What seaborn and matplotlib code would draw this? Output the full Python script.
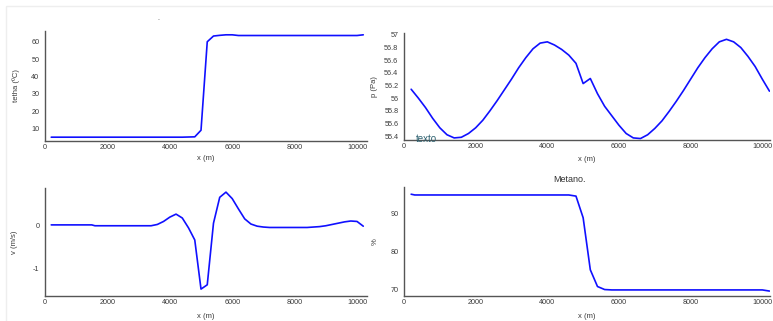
import numpy as np
import pandas as pd
import matplotlib
matplotlib.use("Agg")
import matplotlib.pyplot as plt
import seaborn as sns
from matplotlib.ticker import MultipleLocator
from matplotlib.patches import Rectangle

# ---- data ----
x_tetha = [200, 400, 800, 1200, 1600, 2000, 2400, 2800, 3200, 3600, 4000, 4400, 4800,
           5000, 5200, 5400, 5600, 5800, 6000, 6200, 7000, 8000, 9000, 10000, 10200]
tetha = [5.0, 5.0, 5.0, 5.0, 5.0, 5.0, 5.0, 5.0, 5.0, 5.0, 5.0, 5.0, 5.2,
         9.0, 60.0, 63.3, 63.7, 64.0, 64.0, 63.6, 63.6, 63.6, 63.6, 63.6, 64.0]

x_p = [200, 400, 600, 800, 1000, 1200, 1400, 1600, 1800, 2000, 2200, 2400, 2600, 2800,
       3000, 3200, 3400, 3600, 3800, 4000, 4200, 4400, 4600, 4800, 5000, 5200, 5400,
       5600, 5800, 6000, 6200, 6400, 6600, 6800, 7000, 7200, 7400, 7600, 7800, 8000,
       8200, 8400, 8600, 8800, 9000, 9200, 9400, 9600, 9800, 10000, 10200]
p = [56.14, 56.00, 55.85, 55.68, 55.53, 55.42, 55.37, 55.38, 55.44, 55.53, 55.65, 55.80,
     55.96, 56.13, 56.30, 56.48, 56.64, 56.78, 56.87, 56.89, 56.84, 56.77, 56.68, 56.55,
     56.23, 56.31, 56.07, 55.87, 55.72, 55.57, 55.44, 55.37, 55.36, 55.42, 55.52, 55.64,
     55.79, 55.95, 56.12, 56.30, 56.48, 56.64, 56.78, 56.89, 56.93, 56.89, 56.80, 56.66,
     56.50, 56.30, 56.11]
p_ticks = [55.4, 55.6, 55.8, 56.0, 56.2, 56.4, 56.6, 56.8, 57.0]
p_ticklabels = ["55.4", "55.6", "55.8", "56", "56.2", "56.4", "56.6", "56.8", "57"]

x_v = [200, 600, 1000, 1500, 1600, 2000, 2600, 3200, 3400, 3600, 3800, 4000, 4200, 4400,
       4600, 4800, 5000, 5200, 5400, 5600, 5800, 6000, 6200, 6400, 6600, 6800, 7000,
       7200, 7600, 8000, 8400, 8600, 8800, 9000, 9200, 9400, 9600, 9800, 10000, 10200]
v = [0.02, 0.02, 0.02, 0.02, 0.0, 0.0, 0.0, 0.0, 0.0, 0.03, 0.10, 0.20, 0.27, 0.18,
     -0.05, -0.33, -1.47, -1.37, 0.06, 0.66, 0.78, 0.63, 0.39, 0.16, 0.04, -0.01, -0.03,
     -0.04, -0.04, -0.04, -0.04, -0.03, -0.02, 0.0, 0.03, 0.06, 0.09, 0.11, 0.10, -0.01]

x_met = [200, 300, 1000, 2000, 3000, 4000, 4600, 4800, 5000, 5200, 5400, 5600, 5800,
         7000, 8000, 9000, 10000, 10200]
metano = [95.2, 95.0, 95.0, 95.0, 95.0, 95.0, 95.0, 94.7, 89.0, 75.3, 70.9, 70.1, 70.0,
          70.0, 70.0, 70.0, 70.0, 69.7]

df_t = pd.DataFrame({"x": x_tetha, "y": tetha})
df_p = pd.DataFrame({"x": x_p, "y": p})
df_v = pd.DataFrame({"x": x_v, "y": v})
df_m = pd.DataFrame({"x": x_met, "y": metano})

sns.set_style("white")
plt.rcParams['font.family'] = ['Liberation Sans', 'DejaVu Sans']
plt.rcParams['axes.unicode_minus'] = False

W, H = 773, 321
fig = plt.figure(figsize=(W / 100, H / 100), dpi=100)
fig.patch.set_facecolor("white")

def px_axes(l, t, r, b):
    return fig.add_axes([l / W, 1 - b / H, (r - l) / W, (b - t) / H])

LINE = "#1010ff"
TXT = "#3a3a3a"

def style(ax, box, xlim, ylim, ymajor, yminor=None, ylabel="", xlabel="x (m)",
          xl_y=0.0, yl_x=0.0):
    l, t, r, b = box
    ax.set_xlim(*xlim)
    ax.set_ylim(*ylim)
    ax.xaxis.set_major_locator(MultipleLocator(2000))
    ax.xaxis.set_minor_locator(MultipleLocator(1000))
    ax.yaxis.set_major_locator(MultipleLocator(ymajor))
    if yminor:
        ax.yaxis.set_minor_locator(MultipleLocator(yminor))
    for s in ["top", "right"]:
        ax.spines[s].set_visible(False)
    for s in ["left", "bottom"]:
        ax.spines[s].set_color("#555555")
        ax.spines[s].set_linewidth(1.0)
    ax.tick_params(which="both", direction="in", colors="#b0b0b0", labelcolor=TXT,
                   labelsize=5.2, length=2.5, width=0.8)
    ax.tick_params(axis="y", pad=4)
    ax.tick_params(axis="x", pad=2.5)
    ax.tick_params(which="minor", length=1.8)
    ax.set_xlabel(xlabel, fontsize=5.5, color=TXT)
    ax.set_ylabel(ylabel, fontsize=5.5, color=TXT)
    # label positions (pixels -> axes fraction)
    ax.xaxis.set_label_coords(0.5, -(xl_y - b) / (b - t))
    ax.yaxis.set_label_coords((yl_x - l) / (r - l), 0.5)
    ax.set_facecolor("white")

box1 = (45, 31, 367, 141)
ax1 = px_axes(*box1)
sns.lineplot(data=df_t, x="x", y="y", ax=ax1, color=LINE, linewidth=1.2)
style(ax1, box1, (0, 10320), (2.8, 66.2), 10, ylabel="tetha (ºC)", xl_y=155.5, yl_x=19.5)

box2 = (404, 33, 770, 140)
ax2 = px_axes(*box2)
sns.lineplot(data=df_p, x="x", y="y", ax=ax2, color=LINE, linewidth=1.2)
style(ax2, box2, (0, 10215), (55.337, 57.03), 0.2, ylabel="p (Pa)", xl_y=155.5, yl_x=378.5)
ax2.set_yticks(p_ticks)
ax2.set_yticklabels(p_ticklabels)
ax2.text(0.033, -0.035, "texto", transform=ax2.transAxes, fontsize=7, color="#2b5f6e",
         va="bottom", ha="left")

box3 = (45, 188, 367, 296)
ax3 = px_axes(*box3)
sns.lineplot(data=df_v, x="x", y="y", ax=ax3, color=LINE, linewidth=1.2)
style(ax3, box3, (0, 10320), (-1.63, 0.876), 1, 0.2, ylabel="v (m/s)", xl_y=312.5, yl_x=18.5)

box4 = (404, 187, 770, 296)
ax4 = px_axes(*box4)
sns.lineplot(data=df_m, x="x", y="y", ax=ax4, color=LINE, linewidth=1.2)
style(ax4, box4, (0, 10215), (68.4, 97.1), 10, 2, ylabel="%", xl_y=312.5, yl_x=378.5)
ax4.set_title("Metano.", fontsize=6.5, color="#333333", pad=3.5, x=(570 - 404) / 366)

# light frame and stray dot
fig.add_artist(Rectangle((6 / W, -0.1), 1.2, 1 - 6 / H + 0.1, transform=fig.transFigure,
                         fill=False, edgecolor="#eeeeee", linewidth=1.0))
fig.text(158 / W, 1 - 19 / H, ".", fontsize=5, color="#444444", ha="center", va="center")

fig.savefig("out.png", dpi=100, facecolor="white")
